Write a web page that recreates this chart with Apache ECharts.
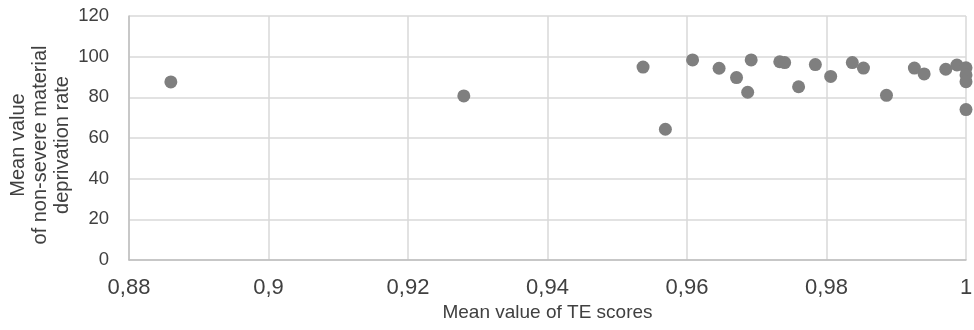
<!DOCTYPE html>
<html><head><meta charset="utf-8">
<script src="https://cdn.jsdelivr.net/npm/echarts@6/dist/echarts.min.js"></script>
<style>html,body{margin:0;padding:0;background:#fff}#c{width:974px;height:330px}</style>
</head><body><div id="c"></div>
<script>
const teScores = [0.886, 0.928, 0.9537, 0.9569, 0.9608, 0.9646, 0.9671, 0.9687, 0.9692, 0.9733, 0.9740, 0.9760, 0.9784, 0.9806, 0.9837, 0.9853, 0.9886, 0.9926, 0.9940, 0.9971, 0.9987, 1, 1, 1, 1];
const deprivationRates = [87.6, 80.7, 94.9, 64.3, 98.4, 94.3, 89.7, 82.5, 98.4, 97.5, 97.1, 85.2, 96.1, 90.3, 97.1, 94.4, 81.0, 94.4, 91.5, 93.8, 95.9, 94.5, 91.0, 87.7, 74.0];
const xTitle = 'Mean value of TE scores';
const yTitle = 'Mean value\nof non-severe material\ndeprivation rate';

const points = teScores.map((x, i) => [x, deprivationRates[i]]);
const fmtX = v => String(+(+v).toFixed(2)).replace('.', ',');
const font = 'Liberation Sans';
const chart = echarts.init(document.getElementById('c'));
chart.setOption({
  animation: false,
  grid: {left: 129, right: 8, top: 16, bottom: 70, containLabel: false, outerBoundsMode: 'none'},
  xAxis: {
    type: 'value', min: 0.88, max: 1, interval: 0.02,
    name: xTitle, nameLocation: 'middle', nameGap: 43, nameMoveOverlap: false,
    nameTextStyle: {fontFamily: font, fontSize: 19, color: '#404040'},
    axisLine: {show: true, lineStyle: {color: '#bfbfbf', width: 1.5}},
    axisTick: {show: false},
    axisLabel: {formatter: fmtX, fontFamily: font, fontSize: 22, color: '#404040', margin: 17},
    splitLine: {show: true, lineStyle: {color: '#d9d9d9', width: 1.5}}
  },
  yAxis: {
    type: 'value', min: 0, max: 120, interval: 20,
    name: yTitle, nameLocation: 'middle', nameGap: 56, nameRotate: 90, nameMoveOverlap: false,
    nameTextStyle: {fontFamily: font, fontSize: 20, color: '#404040', lineHeight: 22, align: 'center', padding: [0, 14, 0, 0]},
    axisLine: {show: true, lineStyle: {color: '#bfbfbf', width: 1.5}},
    axisTick: {show: false},
    axisLabel: {fontFamily: font, fontSize: 18.5, color: '#404040', margin: 20},
    splitLine: {show: true, lineStyle: {color: '#d9d9d9', width: 1.5}}
  },
  series: [{
    type: 'scatter', data: points, symbol: 'circle', symbolSize: 13, clip: false,
    itemStyle: {color: '#7f7f7f', opacity: 1}
  }]
});
</script></body></html>
